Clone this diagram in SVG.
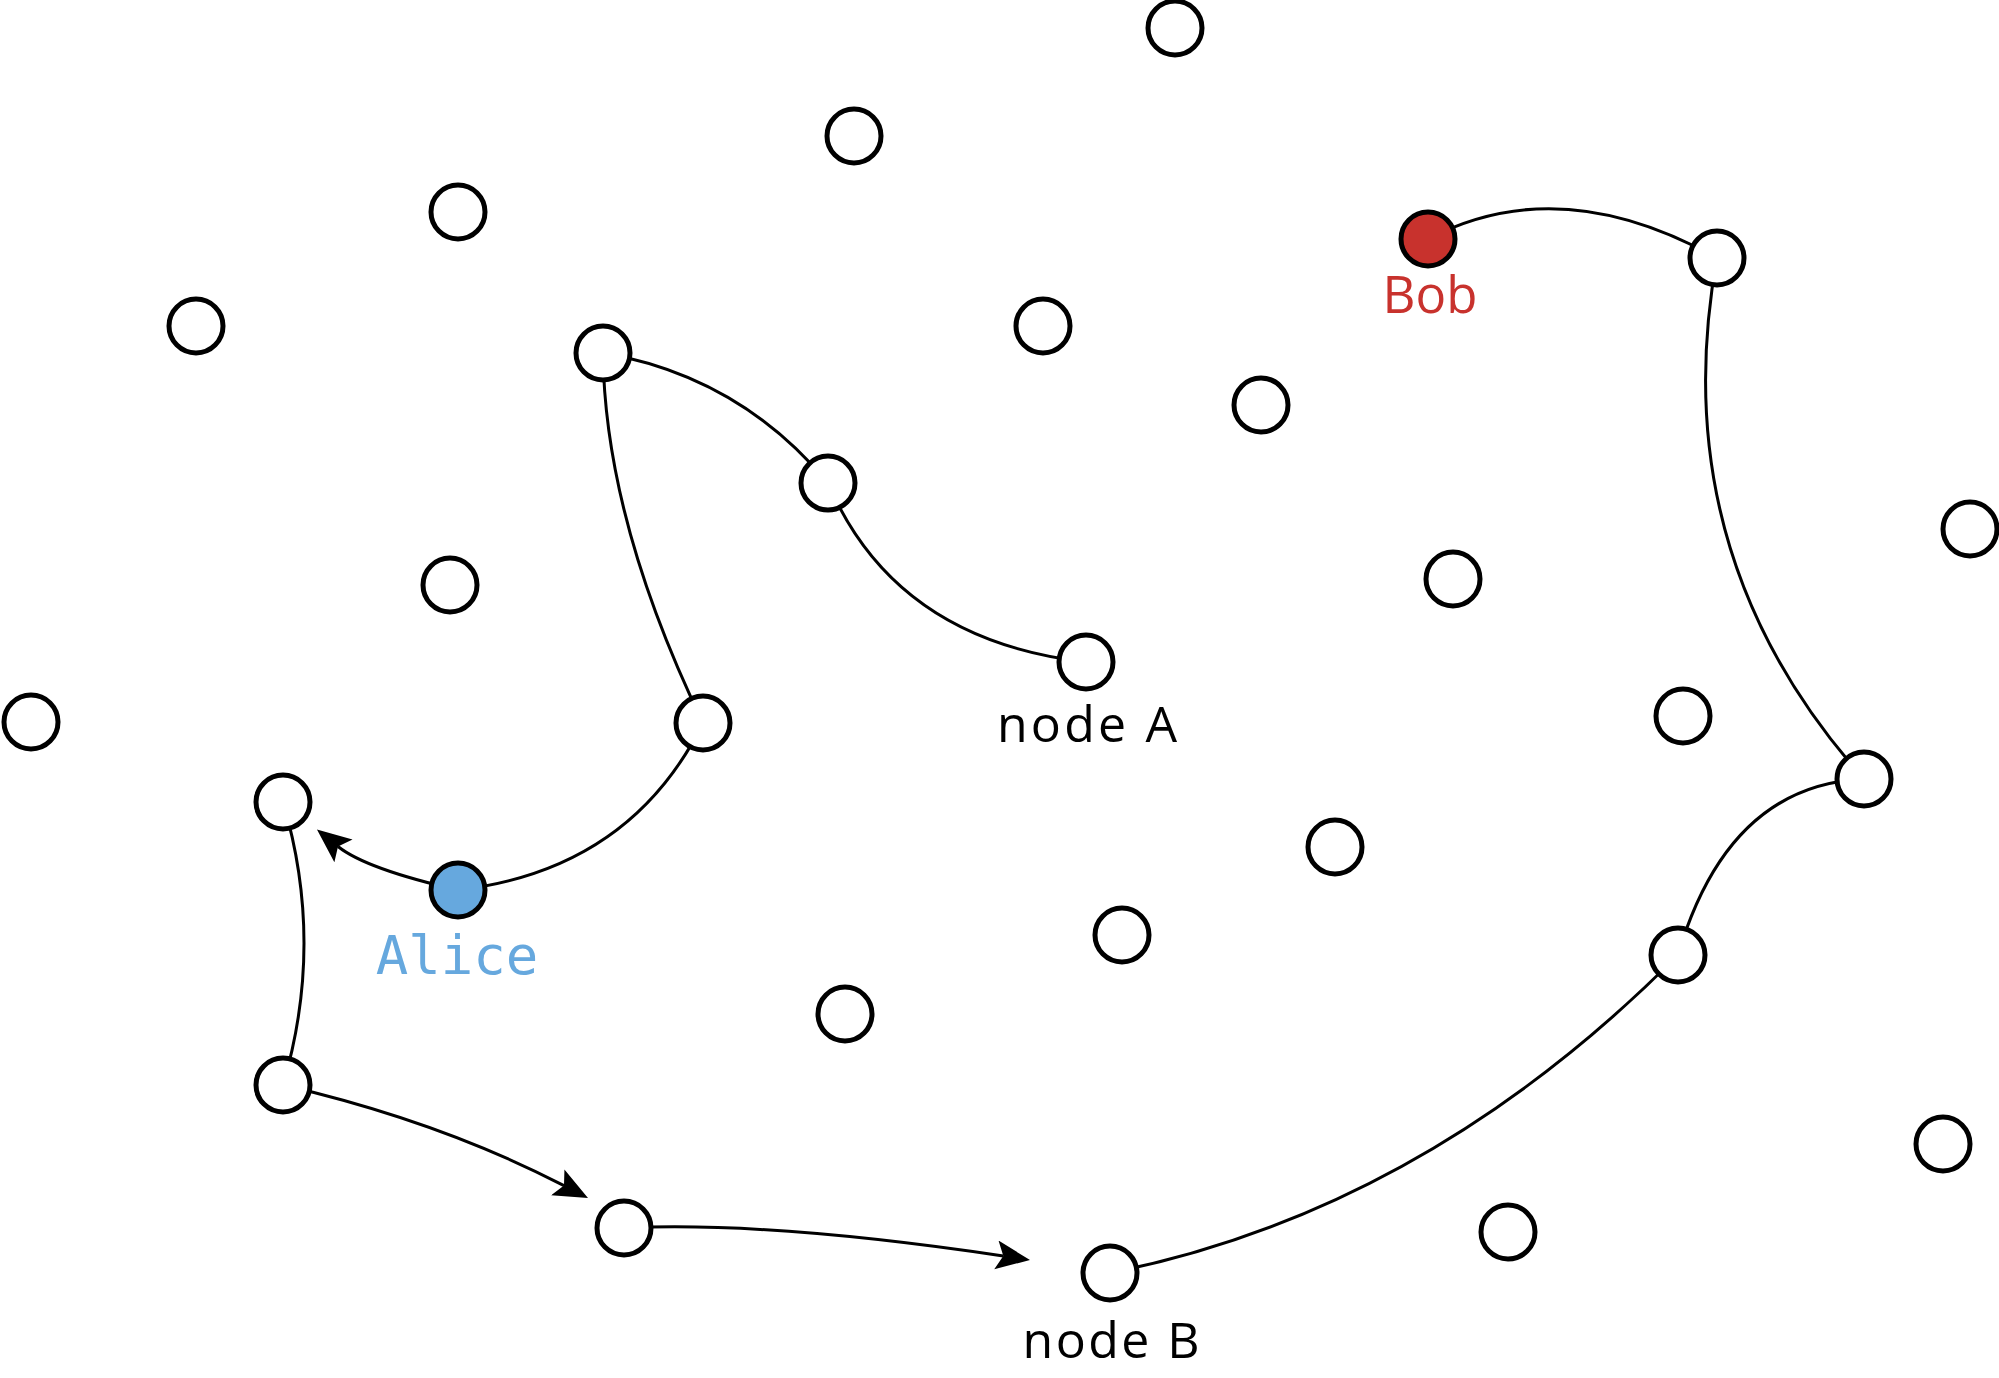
<svg xmlns="http://www.w3.org/2000/svg" width="1999" height="1378" viewBox="0 0 1999 1378">
<style>
.n{fill:#fff;stroke:#000;stroke-width:5}
.e{fill:none;stroke:#000;stroke-width:3}
.lbl{font-family:"Open Sans","Noto Sans",sans-serif;font-size:50px;fill:#000;text-anchor:middle}
</style>
<defs>
<marker id="arr" markerUnits="userSpaceOnUse" markerWidth="36" markerHeight="32" viewBox="0 0 36 32" refX="7" refY="16" orient="auto">
<path d="M0,1.5 L34,16 L0,30.5 L7,16 Z" fill="#000"/>
</marker>
</defs>
<rect width="1999" height="1378" fill="#fff"/>
<g id="connectors">
<path class="e" d="M1428,239 Q1560,170 1717,258"/>
<path class="e" d="M1717,258 Q1663,554 1864,779"/>
<path class="e" d="M1864,779 Q1728,785 1678,955"/>
<path class="e" d="M1678,955 Q1425,1210 1110,1273"/>
<path class="e" d="M603,353 Q739,376 828,483"/>
<path class="e" d="M828,483 Q895,640 1086,662"/>
<path class="e" d="M603,353 Q605,520 703,723"/>
<path class="e" d="M703,723 Q630,870 458,890"/>
<path class="e" d="M283,802 Q325,943 283,1085"/>
<path class="e" d="M458,890 Q366,869 338,846.5" marker-end="url(#arr)"/>
<path class="e" d="M283,1085 Q439,1121 564,1185.6" marker-end="url(#arr)"/>
<path class="e" d="M624,1228 Q769,1221 1003.3,1256" marker-end="url(#arr)"/>
</g>
<g id="n1"><circle class="n" cx="1175" cy="28" r="27"/></g>
<g id="n2"><circle class="n" cx="854" cy="136" r="27"/></g>
<g id="n3"><circle class="n" cx="458" cy="212" r="27"/></g>
<g id="n4"><circle class="n" cx="196" cy="326" r="27"/></g>
<g id="n5"><circle class="n" cx="603" cy="353" r="27"/></g>
<g id="n6"><circle class="n" cx="1043" cy="326" r="27"/></g>
<g id="n7"><circle class="n" cx="1261" cy="405" r="27"/></g>
<g id="bob"><circle cx="1428" cy="239" r="27" fill="#c8322d" stroke="#000" stroke-width="5"/>
<text x="1430" y="313" font-family="Open Sans, Noto Sans, sans-serif" font-size="51" fill="#c8322d" text-anchor="middle">Bob</text></g>
<g id="n9"><circle class="n" cx="1717" cy="258" r="27"/></g>
<g id="n10"><circle class="n" cx="828" cy="483" r="27"/></g>
<g id="n11"><circle class="n" cx="1970" cy="529" r="27"/></g>
<g id="n12"><circle class="n" cx="450" cy="585" r="27"/></g>
<g id="n13"><circle class="n" cx="1453" cy="579" r="27"/></g>
<g id="nodeA"><circle class="n" cx="1086" cy="662" r="27"/>
<text class="lbl" x="1087" y="742" textLength="180" lengthAdjust="spacing">node A</text></g>
<g id="n15"><circle class="n" cx="31" cy="722" r="27"/></g>
<g id="n16"><circle class="n" cx="703" cy="723" r="27"/></g>
<g id="n17"><circle class="n" cx="1683" cy="716" r="27"/></g>
<g id="n18"><circle class="n" cx="283" cy="802" r="27"/></g>
<g id="n19"><circle class="n" cx="1864" cy="779" r="27"/></g>
<g id="n20"><circle class="n" cx="1335" cy="847" r="27"/></g>
<g id="alice"><circle cx="458" cy="890" r="27" fill="#66a8de" stroke="#000" stroke-width="5"/>
<text x="457" y="974" font-family="DejaVu Sans Mono, Liberation Mono, monospace" font-size="54" fill="#66a8de" text-anchor="middle">Alice</text></g>
<g id="n22"><circle class="n" cx="1122" cy="935" r="27"/></g>
<g id="n23"><circle class="n" cx="845" cy="1014" r="27"/></g>
<g id="n24"><circle class="n" cx="1678" cy="955" r="27"/></g>
<g id="n25"><circle class="n" cx="283" cy="1085" r="27"/></g>
<g id="n26"><circle class="n" cx="1943" cy="1144" r="27"/></g>
<g id="n27"><circle class="n" cx="1508" cy="1232" r="27"/></g>
<g id="n28"><circle class="n" cx="624" cy="1228" r="27"/></g>
<g id="nodeB"><circle class="n" cx="1110" cy="1273" r="27"/>
<text class="lbl" x="1111" y="1358" textLength="177" lengthAdjust="spacing">node B</text></g>
</svg>
